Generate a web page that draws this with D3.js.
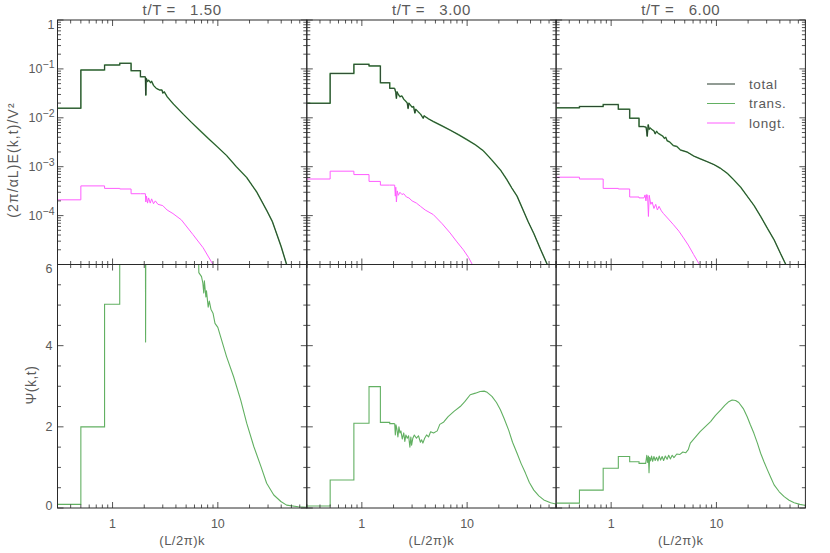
<!DOCTYPE html>
<html>
<head>
<meta charset="utf-8">
<script src="https://cdn.jsdelivr.net/npm/d3@7"></script>
<style>
  body { margin: 0; background: #fff; }
  text { font-family: "Liberation Sans", "DejaVu Sans", sans-serif; fill: #5a5a5a; }
</style>
</head>
<body>
<script>
// shell edges of the low-k step part (same for every time)
const K_EDGES = [0.3, 0.5, 0.84, 1.17, 1.5, 1.84, 2.05];
const TIMES = ["1.50", "3.00", "6.00"];

// ---- t/T = 1.50 ----
const TOTAL_STEPS_1 = [0.0157, 0.095, 0.12, 0.13, 0.092, 0.069];
const TOTAL_TAIL_1 = [[2.05,0.069],[2.07,0.029],[2.09,0.064],[2.15,0.055],[2.2,0.059],[2.3,0.052],[2.35,0.056],
  [2.45,0.046],[2.6,0.040],[2.8,0.037],[2.95,0.037],[3.0,0.032],[3.1,0.034],[3.3,0.027],[3.8,0.019],[4.7,0.0118],
  [5.6,0.0081],[6.7,0.0056],[8.2,0.0037],[10,0.0025],[12.1,0.0017],[15,0.001],[18.8,6.0e-4],[23.5,3e-4],
  [29,1.3e-4],[33,7.5e-5],[36,4.4e-5],[40,2.3e-5],[45,1e-5],[48,6e-6]];
const LONGT_STEPS_1 = [2.1e-4, 4.05e-4, 3.6e-4, 3.5e-4, 2.8e-4, 2.8e-4];
const LONGT_TAIL_1 = [[2.05,2.8e-4],[2.07,1.9e-4],[2.1,2.5e-4],[2.15,1.8e-4],[2.2,2.3e-4],[2.28,1.8e-4],[2.35,2.2e-4],
  [2.45,1.75e-4],[2.55,2.0e-4],[2.7,1.7e-4],[3.0,1.6e-4],[3.3,1.3e-4],[3.75,1.1e-4],[4.5,8.2e-5],[5.8,4.1e-5],
  [7.25,2.2e-5],[9.0,1e-5],[9.6,7e-6]];
const PSI_STEPS_1 = [0.09, 2.0, 5.02, 8, 8, 8];
const PSI_TAIL_1 = [[2.05,8],[2.06,4.09],[2.075,8],[6.5,7],[6.6,5.8],[7.0,5.7],[7.2,5.55],[7.35,5.3],[7.45,5.6],
  [7.7,5.2],[7.8,5.35],[8.1,4.95],[8.3,5.1],[8.6,4.9],[9.0,4.8],[9.4,4.55],[10,4.45],[12.1,3.73],[14.1,3.24],
  [16.5,2.66],[18.8,2.09],[22,1.51],[25.7,1.02],[29.1,0.61],[34,0.32],[39.7,0.16],[45,0.07],[58,0.03],[70,0.02]];

// ---- t/T = 3.00 ----
const TOTAL_STEPS_2 = [0.0198, 0.081, 0.124, 0.115, 0.052, 0.040];
const TOTAL_TAIL_2 = [[2.05,0.040],[2.1,0.033],[2.13,0.025],[2.16,0.034],[2.2,0.031],[2.3,0.027],[2.4,0.028],
  [2.5,0.024],[2.6,0.022],[2.7,0.020],[2.75,0.0155],[2.8,0.020],[2.9,0.018],[3.0,0.0165],[3.1,0.017],[3.19,0.0125],
  [3.25,0.015],[3.4,0.0135],[3.6,0.012],[3.83,0.0098],[3.9,0.011],[4.3,0.0095],[4.77,0.0084],[5.8,0.0068],
  [6.9,0.0056],[8.3,0.0045],[9.9,0.0036],[12,0.0028],[14.3,0.0021],[17,0.0014],[20.7,8.6e-4],[23.9,5.4e-4],
  [26.5,3.7e-4],[29.8,2.5e-4],[34,1.3e-4],[38,7.5e-5],[43,4.3e-5],[50,2e-5],[57.7,1e-5],[62,6e-6]];
const LONGT_STEPS_2 = [5.6e-4, 8.1e-4, 6.9e-4, 5.0e-4, 4.2e-4, 4.2e-4];
const LONGT_TAIL_2 = [[2.05,4.2e-4],[2.08,2.5e-4],[2.1,3.8e-4],[2.13,1.9e-4],[2.17,3.2e-4],[2.22,2.6e-4],[2.3,3.0e-4],
  [2.4,2.7e-4],[2.5,2.8e-4],[2.65,2.4e-4],[2.8,2.3e-4],[3.0,2.0e-4],[3.3,1.8e-4],[3.6,1.55e-4],[4.0,1.3e-4],
  [4.77,1.05e-4],[5.8,6.8e-5],[6.9,4.4e-5],[8,2.9e-5],[9.2,2e-5],[10.3,1.4e-5],[11.2,1e-5],[11.8,8e-6]];
const PSI_STEPS_2 = [0.05, 0.69, 2.09, 2.99, 2.11, 2.08];
const PSI_TAIL_2 = [[2.05,2.08],[2.08,1.8],[2.11,2.05],[2.15,1.95],[2.2,1.75],[2.25,2.0],[2.3,1.85],[2.35,1.9],
  [2.42,1.7],[2.5,1.85],[2.56,1.64],[2.62,1.8],[2.7,1.72],[2.78,1.78],[2.86,1.5],[2.92,1.75],[2.97,1.55],
  [3.05,1.72],[3.15,1.8],[3.3,1.72],[3.45,1.78],[3.6,1.62],[3.7,1.68],[3.8,1.6],[3.95,1.72],[4.12,1.8],
  [4.3,1.75],[4.5,1.88],[4.8,1.85],[5.2,1.9],[5.5,2.06],[6.0,2.12],[6.6,2.25],[7.5,2.38],[8.6,2.5],[9.5,2.62],
  [10.7,2.79],[12,2.83],[13.3,2.87],[14.5,2.88],[15.5,2.85],[17.2,2.75],[19,2.6],[20.7,2.42],[22.5,2.2],
  [24.8,1.92],[27,1.62],[29.8,1.35],[32.5,1.1],[35.8,0.86],[39,0.63],[43,0.44],[48,0.3],[53.5,0.2],[62,0.13],[72,0.09]];

// ---- t/T = 6.00 ----
const TOTAL_STEPS_3 = [0.016, 0.017, 0.0186, 0.015, 0.0098, 0.0066];
const TOTAL_TAIL_3 = [[2.05,0.0066],[2.15,0.0064],[2.2,0.0042],[2.25,0.0072],[2.3,0.0058],[2.35,0.0062],
  [2.45,0.0057],[2.55,0.0054],[2.62,0.0047],[2.7,0.0053],[2.8,0.0048],[2.95,0.0045],[3.1,0.0042],[3.2,0.0038],
  [3.3,0.004],[3.4,0.0034],[3.6,0.0032],[3.9,0.0027],[4.2,0.0026],[4.55,0.0022],[5.25,0.002],[6.1,0.00165],
  [7,0.00145],[8.15,0.00127],[9.5,0.0011],[10.9,9.3e-4],[12.7,7.3e-4],[14.6,5.4e-4],[17,3.8e-4],[19.6,2.5e-4],
  [22.8,1.6e-4],[26.3,9.6e-5],[30.5,5.5e-5],[35.3,3.2e-5],[40.5,1.7e-5],[45.6,1e-5],[48,7e-6]];
const LONGT_STEPS_3 = [6.1e-4, 5.6e-4, 3.6e-4, 3.5e-4, 2.4e-4, 2.3e-4];
const LONGT_TAIL_3 = [[2.05,2.3e-4],[2.1,2.65e-4],[2.14,2.0e-4],[2.18,2.7e-4],[2.22,2.5e-4],[2.26,9.6e-5],
  [2.3,2.6e-4],[2.38,1.7e-4],[2.45,1.9e-4],[2.55,1.4e-4],[2.65,1.7e-4],[2.75,1.3e-4],[2.85,1.55e-4],[3.0,1.25e-4],
  [3.14,1.1e-4],[3.5,8.5e-5],[3.91,6.5e-5],[4.4,4.8e-5],[4.87,3.5e-5],[5.4,2.5e-5],[6.07,1.6e-5],[6.9,1e-5],[7.3,8e-6]];
const PSI_STEPS_3 = [0.12, 0.44, 0.98, 1.27, 1.14, 1.10];
const PSI_TAIL_3 = [[2.05,1.10],[2.13,1.10],[2.18,1.3],[2.22,1.12],[2.26,1.28],[2.29,0.87],[2.32,1.25],[2.37,1.16],
  [2.42,1.28],[2.48,1.15],[2.55,1.27],[2.62,1.17],[2.7,1.25],[2.78,1.16],[2.86,1.28],[2.95,1.18],[3.05,1.27],
  [3.15,1.17],[3.27,1.28],[3.4,1.2],[3.52,1.3],[3.65,1.21],[3.8,1.3],[3.95,1.24],[4.2,1.33],[4.5,1.32],[4.8,1.38],
  [5.1,1.36],[5.4,1.44],[5.65,1.6],[6.2,1.72],[7.0,1.88],[7.8,2.0],[8.8,2.13],[9.8,2.28],[11,2.42],[12,2.53],
  [13.1,2.62],[14.1,2.66],[15.2,2.65],[16.3,2.6],[18,2.45],[19.6,2.25],[21,2.05],[22.7,1.84],[24.5,1.6],
  [26.3,1.35],[28.3,1.14],[30.5,0.94],[33,0.74],[35.3,0.57],[39.5,0.4],[44,0.28],[49,0.19],[54.8,0.13],[62,0.09],[71,0.06]];

const PANELS = [
  { t: TIMES[0], totSteps: TOTAL_STEPS_1, totTail: TOTAL_TAIL_1, lonSteps: LONGT_STEPS_1, lonTail: LONGT_TAIL_1, psiSteps: PSI_STEPS_1, psiTail: PSI_TAIL_1 },
  { t: TIMES[1], totSteps: TOTAL_STEPS_2, totTail: TOTAL_TAIL_2, lonSteps: LONGT_STEPS_2, lonTail: LONGT_TAIL_2, psiSteps: PSI_STEPS_2, psiTail: PSI_TAIL_2 },
  { t: TIMES[2], totSteps: TOTAL_STEPS_3, totTail: TOTAL_TAIL_3, lonSteps: LONGT_STEPS_3, lonTail: LONGT_TAIL_3, psiSteps: PSI_STEPS_3, psiTail: PSI_TAIL_3 },
];

const LEGEND = [
  { name: "total", color: "#24382a" },
  { name: "trans.", color: "#62b062" },
  { name: "longt.", color: "#ff5cff" },
];

// layout
const WIDTH = 830, HEIGHT = 553;
const PANEL_X = [57.5, 306.8, 556.1];
const PANEL_W = 249.3;
const TOP = 20, MID = 264.5, BOTTOM = 508;
const AXIS_COLOR = "#2a2a2a";

const svg = d3.select("body").append("svg").attr("width", WIDTH).attr("height", HEIGHT);

const isDecade = (v) => Math.abs(Math.log10(v) - Math.round(Math.log10(v))) < 1e-6;

function stepPoints(steps) {
  const pts = steps.map((v, i) => [K_EDGES[i], v]);
  pts.push([K_EDGES[K_EDGES.length - 1], steps[steps.length - 1]]);
  return pts;
}

function drawSeries(g, x, y, steps, tail, color, width) {
  const stepLine = d3.line().x(d => x(d[0])).y(d => y(d[1])).curve(d3.curveStepAfter);
  const tailLine = d3.line().x(d => x(d[0])).y(d => y(d[1]));
  g.append("path").attr("d", stepLine(stepPoints(steps)))
    .attr("fill", "none").attr("stroke", color).attr("stroke-width", width);
  g.append("path").attr("d", tailLine(tail))
    .attr("fill", "none").attr("stroke", color).attr("stroke-width", width).attr("stroke-linejoin", "round");
}

// ticks drawn inward on every side
function xTicks(g, x, yPos, dir) {
  g.selectAll(null).data(x.ticks()).join("line")
    .attr("x1", d => x(d)).attr("x2", d => x(d))
    .attr("y1", yPos).attr("y2", d => yPos + dir * (isDecade(d) ? 6 : 3.5))
    .attr("stroke", AXIS_COLOR).attr("stroke-width", 0.8);
}
function yTicks(g, y, values, isMajor, xPos, dir) {
  g.selectAll(null).data(values).join("line")
    .attr("x1", xPos).attr("x2", d => xPos + dir * (isMajor(d) ? 6 : 3.5))
    .attr("y1", d => y(d)).attr("y2", d => y(d))
    .attr("stroke", AXIS_COLOR).attr("stroke-width", 0.8);
}

PANELS.forEach((p, i) => {
  const x0 = PANEL_X[i], x1 = x0 + PANEL_W;
  const x = d3.scaleLog().domain([0.3, 70]).range([x0, x1]);
  const yE = d3.scaleLog().domain([1e-5, 1]).range([MID, TOP]);
  const yP = d3.scaleLinear().domain([0, 6]).range([BOTTOM, MID]);

  svg.append("clipPath").attr("id", `clipT${i}`).append("rect")
    .attr("x", x0).attr("y", TOP).attr("width", PANEL_W).attr("height", MID - TOP);
  svg.append("clipPath").attr("id", `clipB${i}`).append("rect")
    .attr("x", x0).attr("y", MID).attr("width", PANEL_W).attr("height", BOTTOM - MID);

  // spectra: trans lies under total, longt separate
  const gT = svg.append("g").attr("clip-path", `url(#clipT${i})`);
  drawSeries(gT, x, yE, p.totSteps, p.totTail, LEGEND[1].color, 1.5);
  drawSeries(gT, x, yE, p.totSteps, p.totTail, LEGEND[0].color, 0.9);
  drawSeries(gT, x, yE, p.lonSteps, p.lonTail, LEGEND[2].color, 1);

  // Psi
  const gB = svg.append("g").attr("clip-path", `url(#clipB${i})`);
  drawSeries(gB, x, yP, p.psiSteps, p.psiTail, LEGEND[1].color, 1.1);

  // frame
  const axes = svg.append("g");
  axes.append("rect").attr("x", x0).attr("y", TOP).attr("width", PANEL_W).attr("height", BOTTOM - TOP)
    .attr("fill", "none").attr("stroke", AXIS_COLOR).attr("stroke-width", 1);
  axes.append("line").attr("x1", x0).attr("x2", x1).attr("y1", MID).attr("y2", MID)
    .attr("stroke", AXIS_COLOR).attr("stroke-width", 1);

  xTicks(axes, x, TOP, 1);
  xTicks(axes, x, MID, -1);
  xTicks(axes, x, MID, 1);
  xTicks(axes, x, BOTTOM, -1);

  const eTicks = yE.ticks();
  yTicks(axes, yE, eTicks, isDecade, x0, 1);
  yTicks(axes, yE, eTicks, isDecade, x1, -1);
  const pTicks = yP.ticks(12);
  const pMajor = d => d % 2 === 0;
  yTicks(axes, yP, pTicks, pMajor, x0, 1);
  yTicks(axes, yP, pTicks, pMajor, x1, -1);

  // title
  svg.append("text").attr("x", (x0 + x1) / 2).attr("y", 15).attr("text-anchor", "middle")
    .attr("font-size", 15).attr("letter-spacing", 0.6).style("white-space", "pre").text(`t/T =   ${p.t}`);

  // x tick labels and title
  svg.selectAll(null).data([1, 10]).join("text")
    .attr("x", d => x(d)).attr("y", 528).attr("text-anchor", "middle")
    .attr("font-size", 12.5).text(d => d);
  svg.append("text").attr("x", (x0 + x1) / 2).attr("y", 545).attr("text-anchor", "middle")
    .attr("font-size", 13).attr("letter-spacing", 0.5).text("(L/2π)k");

  if (i === 0) {
    // log labels
    eTicks.filter(d => isDecade(d) && d > 1e-5).forEach(d => {
      const t = svg.append("text").attr("x", x0 - 3).attr("y", yE(d) + (d === 1 ? 9 : 4.5))
        .attr("text-anchor", "end").attr("font-size", 12.5);
      if (d === 1) {
        t.text("1");
      } else {
        t.append("tspan").text("10");
        t.append("tspan").attr("dy", -5).attr("font-size", 10.5).text("−" + Math.round(-Math.log10(d)));
      }
    });
    // linear labels, end ones kept inside the panel like the original
    svg.selectAll(null).data([0, 2, 4, 6]).join("text")
      .attr("x", x0 - 5).attr("y", d => Math.min(Math.max(yP(d), MID + 4), BOTTOM - 3) + 4.5)
      .attr("text-anchor", "end").attr("font-size", 12.5).text(d => d);

    svg.append("text").attr("transform", `translate(18,160) rotate(-90)`)
      .attr("text-anchor", "middle").attr("font-size", 14).attr("letter-spacing", 1.1)
      .text("(2π/αL)E(k,t)/V²");
    svg.append("text").attr("transform", `translate(36,385) rotate(-90)`)
      .attr("text-anchor", "middle").attr("font-size", 14).attr("letter-spacing", 0.5).text("Ψ(k,t)");
  }

  if (i === 2) {
    const lg = svg.append("g");
    LEGEND.forEach((l, j) => {
      const yy = 84 + j * 19.5;
      lg.append("line").attr("x1", 707).attr("x2", 735).attr("y1", yy).attr("y2", yy)
        .attr("stroke", l.color).attr("stroke-width", 1);
      lg.append("text").attr("x", 749).attr("y", yy + 4.5).attr("font-size", 13.5)
        .attr("letter-spacing", 0.6).text(l.name);
    });
  }
});
</script>
</body>
</html>
